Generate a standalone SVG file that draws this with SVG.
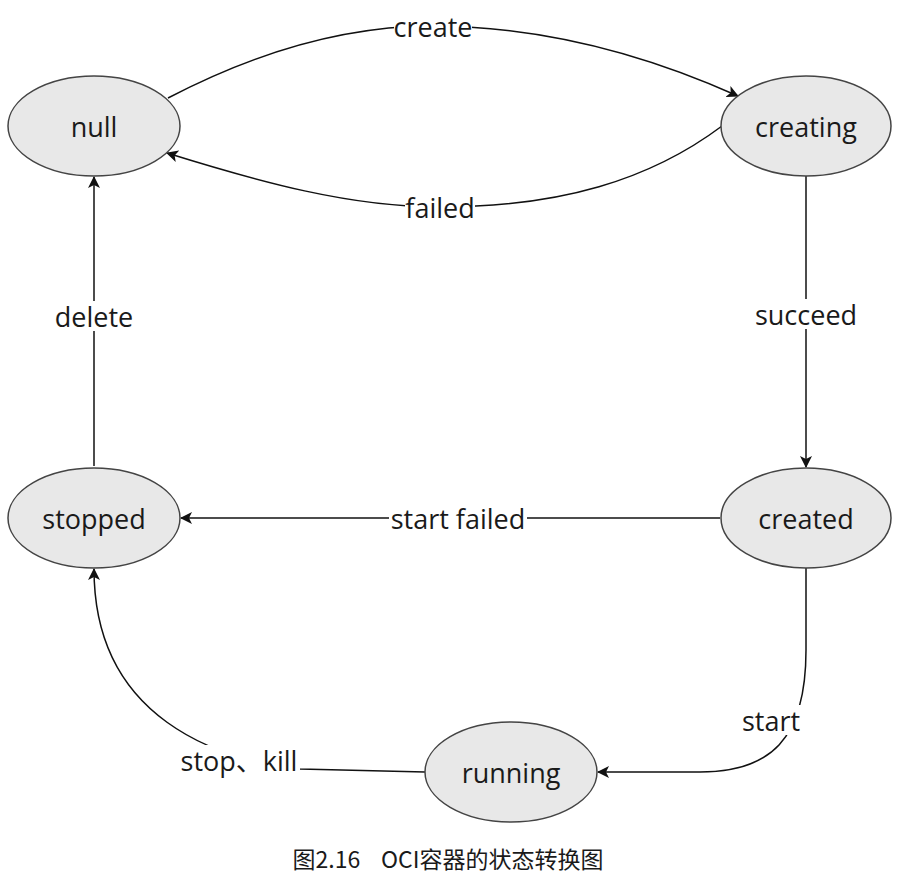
<svg xmlns="http://www.w3.org/2000/svg" width="914" height="890" viewBox="0 0 914 890">
<style>
.node{fill:#e8e8e8;stroke:#444;stroke-width:1.5}
.nt{font-family:"Open Sans","Noto Sans",sans-serif;font-size:27px;fill:#1a1a1a;text-anchor:middle;dominant-baseline:central}
.lbl{font-family:"Open Sans","Noto Sans","Noto Sans CJK SC",sans-serif;font-size:27px;fill:#1a1a1a;text-anchor:middle;dominant-baseline:central}
.e{fill:none;stroke:#111;stroke-width:1.5;marker-end:url(#ah)}
.bg{fill:#fff}
</style>
<defs>
<marker id="ah" markerWidth="12" markerHeight="12" viewBox="0 0 12 12" refX="11" refY="6" orient="auto" markerUnits="userSpaceOnUse">
<path d="M0,0 L12,6 L0,12 L3,6 z" fill="#111"/>
</marker>
</defs>
<rect width="914" height="890" fill="#fff"/>
<g id="connectors">
<path class="e" d="M168,98 C260,50 350,26 432,26 C540,26 640,52 738,96"/>
<path class="e" d="M722,126 C650,180 560,207 440,207 C350,207 260,182 167,153"/>
<path class="e" d="M806,176 L806,467"/>
<path class="e" d="M94,466 L94,177"/>
<path class="e" d="M720,518 L181,518"/>
<path class="e" d="M806,568 L806,650 C806,740 770,772 700,772 L598,772"/>
<path class="e" d="M425,772 L300,769 C220,760 94,720 94,569"/>
<rect class="bg" x="394" y="12" width="78" height="30"/>
<text class="lbl" x="433" y="26">create</text>
<rect class="bg" x="405" y="193" width="70" height="30"/>
<text class="lbl" x="440" y="207">failed</text>
<rect class="bg" x="753" y="299" width="106" height="30"/>
<text class="lbl" x="806" y="314">succeed</text>
<rect class="bg" x="53" y="301" width="82" height="30"/>
<text class="lbl" x="94" y="316">delete</text>
<rect class="bg" x="389" y="503" width="138" height="30"/>
<text class="lbl" x="458" y="518">start failed</text>
<rect class="bg" x="740" y="705" width="62" height="30"/>
<text class="lbl" x="771" y="720">start</text>
<rect class="bg" x="178" y="745" width="122" height="30"/>
<text class="lbl" x="239" y="760">stop、kill</text>
</g>
<g id="null"><ellipse class="node" cx="94" cy="126" rx="86" ry="50"/><text class="nt" x="94" y="126">null</text></g>
<g id="creating"><ellipse class="node" cx="806" cy="126" rx="85" ry="50"/><text class="nt" x="806" y="126">creating</text></g>
<g id="created"><ellipse class="node" cx="806" cy="518" rx="85" ry="50"/><text class="nt" x="806" y="518">created</text></g>
<g id="stopped"><ellipse class="node" cx="94" cy="518" rx="86" ry="50"/><text class="nt" x="94" y="518">stopped</text></g>
<g id="running"><ellipse class="node" cx="511" cy="772" rx="86" ry="50"/><text class="nt" x="511" y="772">running</text></g>
<text x="448" y="858" font-family="'Noto Sans CJK SC','Noto Sans',sans-serif" font-size="23" fill="#1a1a1a" text-anchor="middle" dominant-baseline="central" xml:space="preserve">图2.16    OCI容器的状态转换图</text>
</svg>
